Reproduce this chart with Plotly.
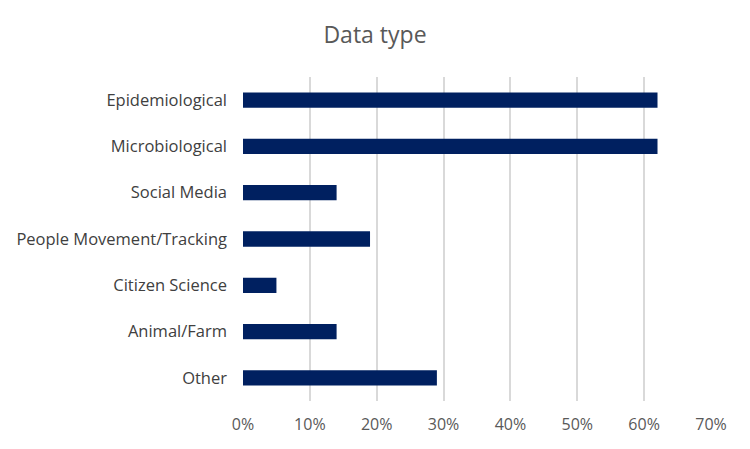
import plotly.graph_objects as go

categories = ["Epidemiological", "Microbiological", "Social Media", "People Movement/Tracking",
              "Citizen Science", "Animal/Farm", "Other"]
values = [0.62, 0.62, 0.14, 0.19, 0.05, 0.14, 0.29]
tick_vals = [0, 0.1, 0.2, 0.3, 0.4, 0.5, 0.6, 0.7]
tick_text = ["0%", "10%", "20%", "30%", "40%", "50%", "60%", "70%"]

fig = go.Figure(go.Bar(
    x=values, y=categories, orientation="h",
    marker=dict(color="#002060", line=dict(width=0)),
    width=0.33,
))

# page body has an 8px default margin; compensate in the figure margins
fig.update_layout(
    width=750, height=449,
    paper_bgcolor="white", plot_bgcolor="white",
    margin=dict(l=235, r=47, t=69, b=56, autoexpand=False),
    title=dict(text="Data type", x=(375 - 8) / 750, xanchor="center",
               y=1 - (35 - 8) / 449, yanchor="middle",
               font=dict(family="Open Sans", size=23, color="#595959")),
    font=dict(family="Open Sans", size=16, color="#404040"),
    showlegend=False,
)
fig.update_xaxes(range=[0, 0.7], tickvals=tick_vals, ticktext=tick_text,
                 showgrid=True, gridcolor="#d9d9d9", gridwidth=1.5,
                 zeroline=False, showline=False, ticks="",
                 ticklabelstandoff=12,
                 tickfont=dict(family="Open Sans", size=16, color="#595959"))
fig.update_yaxes(categoryorder="array", categoryarray=categories[::-1],
                 range=[-0.5, 6.5],
                 showgrid=False, zeroline=False, showline=False, ticks="",
                 ticklabelstandoff=15,
                 tickfont=dict(family="Open Sans", size=16.5, color="#404040"))

fig.write_html("out.html")
